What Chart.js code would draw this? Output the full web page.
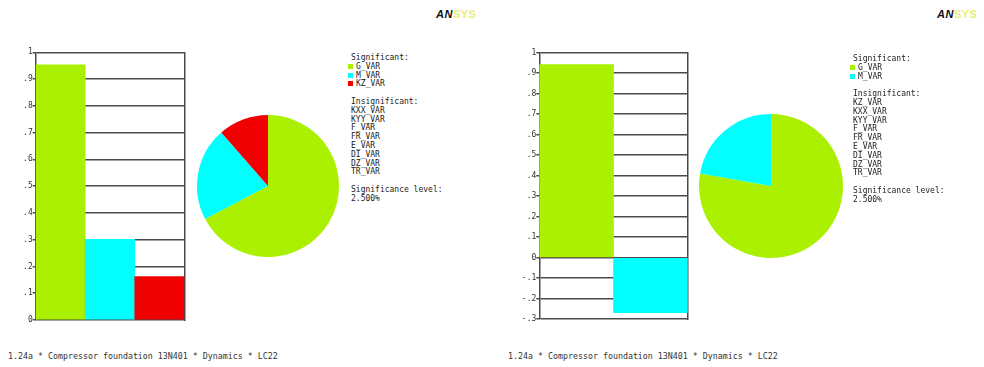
<!DOCTYPE html>
<html>
<head>
<meta charset="utf-8">
<script src="https://cdn.jsdelivr.net/npm/chart.js@4/dist/chart.umd.min.js"></script>
<style>
  body { margin: 0; background: #fff; width: 984px; height: 367px; overflow: hidden; position: relative; }
  canvas { position: absolute; }
  .txt { position: absolute; font: 8px "DejaVu Sans Mono", monospace; color: #222; line-height: 8.8px; white-space: pre; }
  .sq { display: inline-block; width: 5px; height: 5px; margin-right: 3px; margin-left: -3px; vertical-align: 0px; }
  .cap { position: absolute; font: 8.3px "DejaVu Sans Mono", monospace; color: #333; white-space: pre; }
  .logo { position: absolute; font: bold 11px "Liberation Sans", sans-serif; letter-spacing: 0.5px; }
  .logo b { color: #111; font-style: italic; }
  .logo span { color: #e9ee76; }
</style>
</head>
<body>
<canvas id="barL" width="200" height="340" style="left:0;top:0"></canvas>
<canvas id="pieL" width="160" height="160" style="left:188px;top:106px"></canvas>
<canvas id="barR" width="200" height="340" style="left:500px;top:0"></canvas>
<canvas id="pieR" width="160" height="160" style="left:691px;top:106px"></canvas>

<div class="logo" style="left:436px;top:8px"><b>AN</b><span>SYS</span></div>
<div class="logo" style="left:937px;top:8px"><b>AN</b><span>SYS</span></div>

<div class="txt" id="legL" style="left:351px;top:54px"></div>
<div class="txt" id="legR" style="left:853px;top:55px"></div>

<div class="cap" style="left:8px;top:351px">1.24a * Compressor foundation 13N401 * Dynamics * LC22</div>
<div class="cap" style="left:508px;top:351px">1.24a * Compressor foundation 13N401 * Dynamics * LC22</div>

<script>
// left plot
const leftVars = ["G_VAR", "M_VAR", "KZ_VAR"]
const leftValues = [0.953, 0.301, 0.162]
const leftInsig = ["KXX_VAR", "KYY_VAR", "F_VAR", "FR_VAR", "E_VAR", "DI_VAR", "DZ_VAR", "TR_VAR"]

// right plot
const rightVars = ["G_VAR", "M_VAR"]
const rightValues = [0.942, -0.269]
const rightInsig = ["KZ_VAR", "KXX_VAR", "KYY_VAR", "F_VAR", "FR_VAR", "E_VAR", "DI_VAR", "DZ_VAR", "TR_VAR"]

const varColors = ["#aaf000", "#00ffff", "#f00000"]
const sigLevel = "2.500%"

const lineColor = "#4a4a4a"

function tickLabel(value) {
  const v = Math.round(value * 10) / 10
  if (v === 0) return "0"
  if (v === 1) return "1"
  return (v < 0 ? "-" : "") + Math.abs(v).toFixed(1).slice(1)
}

function barChart(id, labels, values, min, pad) {
  new Chart(document.querySelector(id), {
    type: "bar",
    data: {
      labels: labels,
      datasets: [{
        data: values,
        backgroundColor: varColors.slice(0, values.length),
        borderWidth: 0,
        barPercentage: 1,
        categoryPercentage: 1,
      }],
    },
    options: {
      responsive: false,
      animation: false,
      layout: { padding: pad },
      plugins: { legend: { display: false }, tooltip: { enabled: false } },
      scales: {
        x: { display: false },
        y: {
          min: min,
          max: 1,
          afterFit: (axis) => { axis.width = 30 },
          ticks: {
            stepSize: 0.1,
            autoSkip: false,
            padding: 0,
            color: "#333",
            font: { family: "DejaVu Sans Mono", size: 8 },
            callback: tickLabel,
          },
          grid: { color: lineColor, lineWidth: 1.5, tickLength: 3 },
          border: { color: lineColor, width: 1.5 },
        },
        y2: {
          position: "right",
          min: min,
          max: 1,
          afterFit: (axis) => { axis.width = 0 },
          ticks: { display: false },
          grid: { drawOnChartArea: false, drawTicks: false },
          border: { color: lineColor, width: 1.5 },
        },
      },
    },
  })
}

function pieChart(id, values, pad) {
  new Chart(document.querySelector(id), {
    type: "pie",
    data: {
      datasets: [{
        data: values.map((v) => Math.abs(v)),
        backgroundColor: varColors.slice(0, values.length),
        borderWidth: 0,
      }],
    },
    options: {
      responsive: false,
      animation: false,
      layout: { padding: pad },
      plugins: { legend: { display: false }, tooltip: { enabled: false } },
    },
  })
}

barChart("#barL", leftVars, leftValues, 0, { left: 5.7, right: 15.7, top: 52.3, bottom: 20 })
barChart("#barR", rightVars, rightValues, -0.3, { left: 9.3, right: 12.3, top: 52.7, bottom: 21 })
pieChart("#pieL", leftValues, 9)
pieChart("#pieR", rightValues, 8)

// text legends
function fillLegend(id, sig, insig) {
  const box = document.querySelector(id)
  let html = "Significant:\n"
  sig.forEach((name, i) => {
    html += '<span class="sq" style="background:' + varColors[i] + '"></span>' + name + "\n"
  })
  html += "\nInsignificant:\n"
  insig.forEach((name) => { html += name + "\n" })
  html += "\nSignificance level:\n" + sigLevel
  box.innerHTML = html
}

fillLegend("#legL", leftVars, leftInsig)
fillLegend("#legR", rightVars, rightInsig)
</script>
</body>
</html>
